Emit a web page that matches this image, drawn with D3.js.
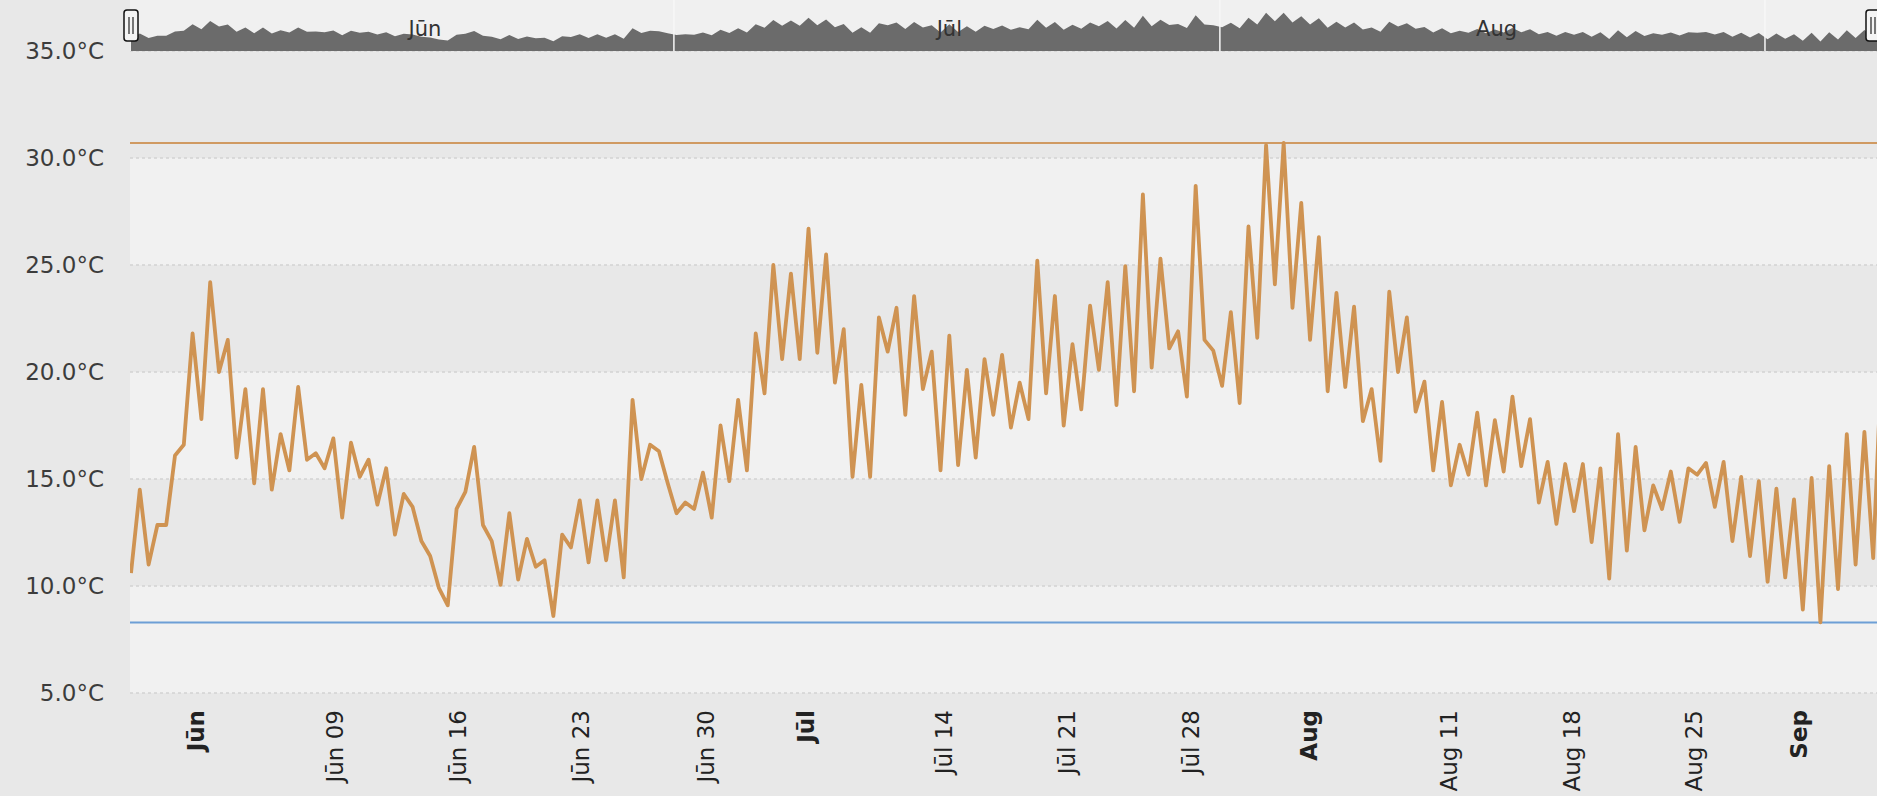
<!DOCTYPE html>
<html>
<head>
<meta charset="utf-8">
<script src="https://cdn.jsdelivr.net/npm/d3@7"></script>
<style>
  body { margin: 0; background: #e8e8e8; }
  svg text { font-family: "DejaVu Sans", Verdana, sans-serif; }
</style>
</head>
<body>
<svg id="chart" width="1877" height="796"></svg>
<script>
// temperature readings, two a day (°C)
const temps = [
  10.6, 14.5, 11.0, 12.85, 12.85, 16.1, 16.6, 21.8, 17.8, 24.2,
  20.0, 21.5, 16.0, 19.2, 14.8, 19.2, 14.5, 17.1, 15.4, 19.3,
  15.9, 16.2, 15.5, 16.9, 13.2, 16.7, 15.1, 15.9, 13.8, 15.5,
  12.4, 14.3, 13.7, 12.1, 11.4, 9.9, 9.1, 13.6, 14.4, 16.5,
  12.85, 12.1, 10.05, 13.4, 10.3, 12.2, 10.9, 11.2, 8.6, 12.4,
  11.8, 14.0, 11.1, 14.0, 11.2, 14.0, 10.4, 18.7, 15.0, 16.6,
  16.3, 14.8, 13.4, 13.9, 13.6, 15.3, 13.2, 17.5, 14.9, 18.7,
  15.4, 21.8, 19.0, 25.0, 20.6, 24.6, 20.6, 26.7, 20.9, 25.5,
  19.5, 22.0, 15.1, 19.4, 15.1, 22.55, 20.95, 23.0, 18.0, 23.55,
  19.2, 20.95, 15.4, 21.7, 15.65, 20.1, 16.0, 20.6, 18.0, 20.8,
  17.4, 19.5, 17.8, 25.2, 19.0, 23.55, 17.5, 21.3, 18.25, 23.1,
  20.1, 24.2, 18.45, 24.95, 19.1, 28.3, 20.2, 25.3, 21.1, 21.9,
  18.85, 28.7, 21.5, 21.0, 19.35, 22.8, 18.55, 26.8, 21.6, 30.6,
  24.1, 30.7, 23.0, 27.9, 21.5, 26.3, 19.1, 23.7, 19.3, 23.05,
  17.7, 19.2, 15.85, 23.75, 20.0, 22.55, 18.15, 19.55, 15.4, 18.6,
  14.7, 16.6, 15.2, 18.1, 14.7, 17.75, 15.35, 18.85, 15.6, 17.8,
  13.9, 15.8, 12.9, 15.7, 13.5, 15.7, 12.05, 15.5, 10.35, 17.1,
  11.65, 16.5, 12.6, 14.7, 13.6, 15.35, 13.0, 15.5, 15.2, 15.75,
  13.7, 15.8, 12.1, 15.1, 11.4, 14.9, 10.2, 14.55, 10.4, 14.05,
  8.9, 15.05, 8.3, 15.6, 9.85, 17.1, 11.0, 17.2, 11.3, 21.0
];

// x axis ticks (position given as reading index, ordinal axis)
const tickLabels = ["Jūn", "Jūn 09", "Jūn 16", "Jūn 23", "Jūn 30", "Jūl", "Jūl 14",
                    "Jūl 21", "Jūl 28", "Aug", "Aug 11", "Aug 18", "Aug 25", "Sep"];
const tickPos = [7.4, 23.2, 37.1, 51.1, 65.3, 76.7, 92.4, 106.4, 120.4, 133.9, 149.8, 163.7, 177.6, 189.5];
const tickBold = [true, false, false, false, false, true, false, false, false, true, false, false, false, true];

const yTicks = [5, 10, 15, 20, 25, 30, 35];

// navigator month labels
const navMonths = ["Jūn", "Jūl", "Aug"];
const navLabelPos = [33.4, 93, 155.2];
const navGridPos = [61.7, 123.75, 185.7];
const navDomain = [1, 32];

const W = 1877, H = 796;
const plotL = 130, plotR = W;
const svg = d3.select("#chart");

const x = d3.scaleLinear().domain([0, temps.length - 1]).range([131, 1882]);
const y = d3.scaleLinear().domain([5, 35]).range([693, 51]);

// alternating bands
const bands = [[5, 10], [15, 20], [25, 30]];
svg.selectAll("rect.band").data(bands).enter().append("rect")
  .attr("class", "band")
  .attr("x", plotL).attr("width", plotR - plotL)
  .attr("y", d => y(d[1])).attr("height", d => y(d[0]) - y(d[1]))
  .attr("fill", "#f1f1f1");

// grid
svg.selectAll("line.grid").data(yTicks).enter().append("line")
  .attr("x1", plotL).attr("x2", plotR)
  .attr("y1", d => y(d)).attr("y2", d => y(d))
  .attr("stroke", "#d2d2d2").attr("stroke-width", 1.5)
  .attr("stroke-dasharray", "3,3");

// y labels
svg.selectAll("text.ylab").data(yTicks).enter().append("text")
  .attr("x", 104).attr("y", d => y(d))
  .attr("text-anchor", "end").attr("dy", "0.36em")
  .attr("font-size", 23).attr("fill", "#3c3c3c")
  .text(d => d.toFixed(1) + "°C");

// clip for the plot
svg.append("clipPath").attr("id", "clip").append("rect")
  .attr("x", plotL).attr("y", 0).attr("width", plotR - plotL).attr("height", H);

// max / min lines
const tMax = d3.max(temps), tMin = d3.min(temps);
svg.append("line").attr("x1", plotL).attr("x2", plotR)
  .attr("y1", y(tMax)).attr("y2", y(tMax))
  .attr("stroke", "#d09a62").attr("stroke-width", 2);
svg.append("line").attr("x1", plotL).attr("x2", plotR)
  .attr("y1", y(tMin)).attr("y2", y(tMin))
  .attr("stroke", "#6d9fd6").attr("stroke-width", 2);

// series
const line = d3.line().x((d, i) => x(i)).y(d => y(d));
svg.append("path").datum(temps)
  .attr("clip-path", "url(#clip)")
  .attr("d", line)
  .attr("fill", "none")
  .attr("stroke", "#cf9352")
  .attr("stroke-width", 3.8)
  .attr("stroke-linejoin", "round");

// x labels
svg.selectAll("text.xlab").data(tickLabels).enter().append("text")
  .attr("transform", (d, i) => `translate(${x(tickPos[i])},710) rotate(-90)`)
  .attr("text-anchor", "end").attr("dy", "0.36em")
  .attr("font-size", 23)
  .attr("font-weight", (d, i) => tickBold[i] ? "bold" : "normal")
  .attr("fill", "#222")
  .text(d => d);

// navigator
const navTop = 0, navBottom = 51;
svg.append("rect").attr("x", plotL).attr("y", navTop)
  .attr("width", plotR - plotL).attr("height", navBottom - navTop)
  .attr("fill", "#f0f0f0");
const yNav = d3.scaleLinear().domain(navDomain).range([navBottom, 11]);
const area = d3.area().x((d, i) => x(i)).y0(navBottom).y1(d => yNav(d));
svg.append("path").datum(temps)
  .attr("clip-path", "url(#clip)")
  .attr("d", area).attr("fill", "#6b6b6b");
svg.selectAll("line.navgrid").data(navGridPos).enter().append("line")
  .attr("x1", d => x(d)).attr("x2", d => x(d))
  .attr("y1", navTop).attr("y2", navBottom)
  .attr("stroke", "#f7f7f7").attr("stroke-width", 1.5);
svg.selectAll("text.navlab").data(navMonths).enter().append("text")
  .attr("x", (d, i) => x(navLabelPos[i])).attr("y", 28)
  .attr("text-anchor", "middle").attr("dy", "0.36em")
  .attr("font-size", 21).attr("fill", "#333")
  .text(d => d);

// handles
const handles = [x(0), plotR - 4];
const hg = svg.selectAll("g.handle").data(handles).enter().append("g")
  .attr("transform", d => `translate(${d},0)`);
hg.append("rect").attr("x", -7).attr("y", 10).attr("width", 14).attr("height", 31)
  .attr("rx", 3).attr("fill", "#f4f4f4").attr("stroke", "#111").attr("stroke-width", 1.5);
hg.append("line").attr("x1", -2).attr("x2", -2).attr("y1", 17).attr("y2", 34)
  .attr("stroke", "#222").attr("stroke-width", 1.2);
hg.append("line").attr("x1", 2).attr("x2", 2).attr("y1", 17).attr("y2", 34)
  .attr("stroke", "#222").attr("stroke-width", 1.2);
</script>
</body>
</html>
